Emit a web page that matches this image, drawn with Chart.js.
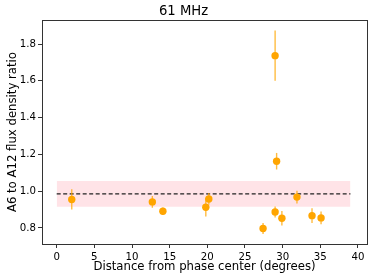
<!DOCTYPE html>
<html><head><meta charset="utf-8">
<script src="https://cdn.jsdelivr.net/npm/chart.js@4"></script>
<style>html,body{margin:0;padding:0;background:#fff}#wrap{width:374px;height:280px}</style>
</head><body><div id="wrap"><canvas id="c"></canvas></div>
<script>
const distances = [2.0, 12.7, 14.1, 19.8, 20.2, 27.4, 29.0, 29.0, 29.2, 29.9, 31.9, 33.9, 35.1];
const ratios    = [0.955, 0.942, 0.891, 0.913, 0.958, 0.797, 1.737, 0.887, 1.163, 0.853, 0.968, 0.867, 0.855];
const ratioErrs = [0.055, 0.032, 0.02, 0.05, 0.032, 0.03, 0.137, 0.03, 0.045, 0.04, 0.035, 0.04, 0.035];
const meanRatio = 0.985;
const bandLow = 0.915;
const bandHigh = 1.055;
const bandRange = [0, 39];
const xTicks = [0, 5, 10, 15, 20, 25, 30, 35, 40];
const yTicks = [0.8, 1.0, 1.2, 1.4, 1.6, 1.8];

const errorBars = {
  id: 'errorBars',
  beforeDatasetDraw(chart, args) {
    if (args.index !== 3) return;
    const {ctx, scales: {x, y}} = chart;
    ctx.save();
    ctx.strokeStyle = 'rgba(255,165,0,0.75)';
    ctx.lineWidth = 1.4;
    distances.forEach((d, i) => {
      const px = x.getPixelForValue(d);
      ctx.beginPath();
      ctx.moveTo(px, y.getPixelForValue(ratios[i] - ratioErrs[i]));
      ctx.lineTo(px, y.getPixelForValue(ratios[i] + ratioErrs[i]));
      ctx.stroke();
    });
    ctx.restore();
  }
};
const frame = {
  id: 'frame',
  afterDraw(chart) {
    const {ctx, chartArea: a} = chart;
    ctx.save();
    ctx.strokeStyle = '#333';
    ctx.lineWidth = 1;
    ctx.strokeRect(Math.round(a.left) + 0.5, Math.round(a.top) + 0.5, Math.round(a.right - a.left), Math.round(a.bottom - a.top));
    ctx.restore();
  }
};

const font = 'DejaVu Sans';
new Chart(document.getElementById('c'), {
  type: 'scatter',
  data: {
    datasets: [
      { type: 'line', data: bandRange.map(v => ({x: v, y: bandHigh})), borderWidth: 0, pointRadius: 0, fill: '+1', backgroundColor: 'rgba(255,0,40,0.11)', order: 4 },
      { type: 'line', data: bandRange.map(v => ({x: v, y: bandLow})), borderWidth: 0, pointRadius: 0, fill: false, order: 3 },
      { type: 'line', data: bandRange.map(v => ({x: v, y: meanRatio})), borderColor: '#222', borderWidth: 1.3, borderDash: [4, 2.5], pointRadius: 0, fill: false, order: 2 },
      { data: distances.map((d, i) => ({x: d, y: ratios[i]})), backgroundColor: '#FFA500', borderColor: '#FFA500', pointRadius: 3.7, pointHoverRadius: 3.7, borderWidth: 0, order: 1 }
    ]
  },
  options: {
    responsive: true, maintainAspectRatio: false, animation: false, events: [],
    layout: { padding: { left: 0, right: 7, top: 0, bottom: 0 } },
    plugins: {
      legend: { display: false }, tooltip: { enabled: false },
      title: { display: true, text: '61 MHz', color: '#000', font: { family: font, size: 13.2, weight: 'normal' }, padding: { top: 4, bottom: 0.3 } }
    },
    scales: {
      x: {
        type: 'linear', min: -1.95, max: 41.2,
        afterBuildTicks: s => { s.ticks = xTicks.map(v => ({value: v})); },
        afterFit: s => { s.height = 36; },
        grid: { display: true, drawOnChartArea: false, drawTicks: true, tickLength: 4, color: '#333' },
        border: { display: true, color: '#333' },
        ticks: { color: '#000', font: { family: font, size: 10.2 }, padding: 3, maxRotation: 0 },
        title: { display: true, text: 'Distance from phase center (degrees)', color: '#000', font: { family: font, size: 11.7 }, padding: { top: 0, bottom: 6 } }
      },
      y: {
        type: 'linear', min: 0.713, max: 1.93,
        afterBuildTicks: s => { s.ticks = yTicks.map(v => ({value: v})); },
        afterFit: s => { s.width = 42; },
        grid: { display: true, drawOnChartArea: false, drawTicks: true, tickLength: 4, color: '#333' },
        border: { display: true, color: '#333' },
        ticks: { color: '#000', font: { family: font, size: 10.2 }, padding: 2, callback: v => v.toFixed(1) },
        title: { display: true, text: 'A6 to A12 flux density ratio', color: '#000', font: { family: font, size: 11.7 }, padding: { top: 6, bottom: 0 } }
      }
    }
  },
  plugins: [errorBars, frame]
});
</script></body></html>
